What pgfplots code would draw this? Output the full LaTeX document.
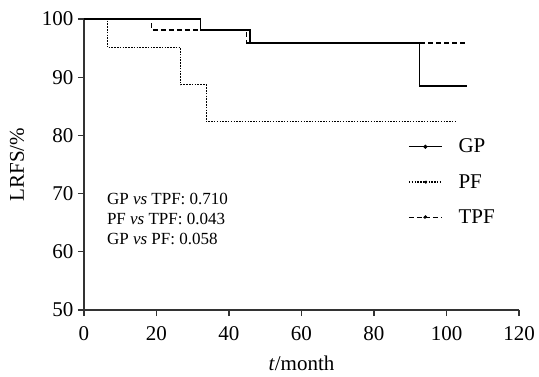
\documentclass[border=0pt]{standalone}
\usepackage{pgfplots}
\pgfplotsset{compat=1.18}
\usepackage{fontspec}
\setmainfont{Liberation Serif}
\begin{document}
\begin{tikzpicture}
\useasboundingbox (-84pt,-66pt) rectangle (455pt,310pt);
\begin{axis}[
  scale only axis, width=435pt, height=291pt,
  xmin=0, xmax=120, ymin=50, ymax=100,
  axis lines=left, axis line style={-, line width=1.3pt, black!80},
  xtick={0,20,...,120}, ytick={50,60,...,100},
  tick align=outside, major tick length=6pt,
  tick style={line width=1.2pt, black!80},
  ticklabel style={font=\fontsize{21}{24}\selectfont},
  xticklabel style={yshift=-7pt},
  yticklabel style={xshift=-1pt},
  /pgf/number format/assume math mode=true,
  xlabel={\textit{t}/month}, ylabel={LRFS/\%},
  label style={font=\fontsize{21}{24}\selectfont},
  xlabel style={yshift=-8pt},
  ylabel style={yshift=11pt},
  clip=false,
  legend style={draw=none, fill=none, inner sep=0pt, at={(0.745,0.595)}, anchor=north west,
    font=\fontsize{21}{24}\selectfont, row sep=16pt,
    /tikz/every odd column/.append style={column sep=14pt}},
  legend cell align=left,
  legend image code/.code={\draw[#1] (0pt,0pt) -- (33pt,0pt); \fill (16.5pt,0pt) circle (1.3pt);},
]
\addplot[const plot, black, line width=1.3pt] coordinates {(0,100) (32.2,98.1) (45.8,95.9) (92.6,88.5) (105.6,88.5)};
\addlegendentry{GP}
\addplot[const plot, black, line width=1.3pt, dash pattern=on 1.5pt off 1.3pt] coordinates {(0,100) (6.5,95.1) (26.7,88.7) (33.7,82.4) (102.8,82.4)};
\addlegendentry{PF}
\addplot[const plot, black, line width=1.3pt, dash pattern=on 5pt off 3pt] coordinates {(0,100) (18.7,98.1) (44.9,95.9) (105.6,95.9)};
\addlegendentry{TPF}
\node[anchor=west, align=left, font=\fontsize{17}{20}\selectfont, inner sep=0pt] at (axis cs:6.3,65.6) {GP \textit{vs} TPF: 0.710\\PF \textit{vs} TPF: 0.043\\GP \textit{vs} PF: 0.058};
\end{axis}
\end{tikzpicture}
\end{document}
